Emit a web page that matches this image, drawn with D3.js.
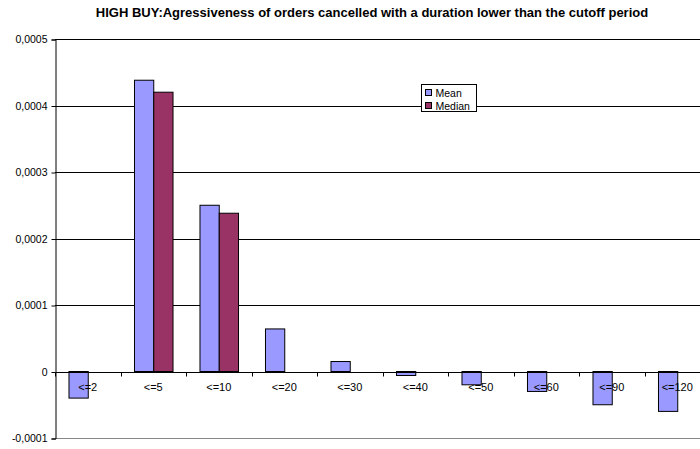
<!DOCTYPE html>
<html>
<head>
<meta charset="utf-8">
<script src="https://cdn.jsdelivr.net/npm/d3@7"></script>
<style>
  body { margin: 0; background: #fff; }
  svg { display: block; font-family: "Liberation Sans", Arial, sans-serif; }
</style>
</head>
<body>
<svg id="chart" width="700" height="449"></svg>
<script>
const categories = ["<=2", "<=5", "<=10", "<=20", "<=30", "<=40", "<=50", "<=60", "<=90", "<=120"];
const meanValues = [-0.00004, 0.000438, 0.00025, 0.000064, 0.000015, -0.000006, -0.00002, -0.00003, -0.00005, -0.00006];
const medianValues = [0, 0.00042, 0.000238, 0, 0, 0, 0, 0, 0, 0];
const seriesNames = ["Mean", "Median"];
const yTicks = [-0.0001, 0, 0.0001, 0.0002, 0.0003, 0.0004, 0.0005];

const colors = {Mean: "#9999ff", Median: "#993366"};

const svg = d3.select('#chart');

// plot area runs past the right edge, like the original export
const plot = {left: 55, right: 710, top: 39, bottom: 438};

const data = categories.map((c, i) => ({cat: c, Mean: meanValues[i], Median: medianValues[i]}));

const xScale = d3.scaleBand()
    .domain(categories)
    .range([plot.left, plot.right])
    .paddingInner(0)
    .paddingOuter(0);

const xInner = d3.scaleBand()
    .domain(seriesNames)
    .range([0, xScale.bandwidth()])
    .paddingInner(0)
    .paddingOuter(0.7);

const yScale = d3.scaleLinear()
    .domain([-0.0001, 0.0005])
    .range([plot.bottom, plot.top]);

// title
svg.append('text')
    .attr('x', 372)
    .attr('y', 17)
    .attr('text-anchor', 'middle')
    .style('font-size', '13px')
    .style('font-weight', 'bold')
    .text("HIGH BUY:Agressiveness of orders cancelled with a duration lower than the cutoff period");

// gridlines
svg.append('g')
    .selectAll('line')
    .data(yTicks.filter(t => t !== 0))
    .join('line')
        .attr('x1', plot.left)
        .attr('x2', plot.right)
        .attr('y1', d => Math.round(yScale(d)) + 0.5)
        .attr('y2', d => Math.round(yScale(d)) + 0.5)
        .attr('stroke', d => d === -0.0001 ? '#888' : '#000')
        .attr('stroke-width', 1);

// y axis
const yAxisGroup = svg.append('g')
    .attr('transform', `translate(${plot.left + 0.5}, 0.5)`)
    .call(d3.axisLeft(yScale)
        .tickValues(yTicks)
        .tickSize(4)
        .tickFormat(d => d === 0 ? "0" : d3.format(".4f")(d).replace('.', ',').replace('−', '-')));
yAxisGroup.select('.domain').attr('stroke', '#000');
yAxisGroup.selectAll('text')
    .style('font-size', '10.5px')
    .style('font-family', '"Liberation Sans", Arial, sans-serif')
    .attr('x', -8);

// bars
const groups = svg.append('g')
    .selectAll('g')
    .data(data)
    .join('g')
        .attr('transform', d => `translate(${xScale(d.cat)}, 0)`);

groups.selectAll('rect')
    .data(d => seriesNames.map(s => ({series: s, value: d[s]})).filter(v => v.value !== 0))
    .join('rect')
        .attr('x', d => xInner(d.series) + 0.5)
        .attr('width', xInner.bandwidth())
        .attr('y', d => yScale(Math.max(0, d.value)))
        .attr('height', d => Math.abs(yScale(d.value) - yScale(0)))
        .attr('fill', d => colors[d.series])
        .attr('stroke', '#000')
        .attr('stroke-width', 1);

// x axis on zero line
const xAxisGroup = svg.append('g')
    .attr('transform', `translate(0.5, ${Math.round(yScale(0)) + 0.5})`);
xAxisGroup.append('line')
    .attr('x1', plot.left)
    .attr('x2', plot.right)
    .attr('stroke', '#000');
xAxisGroup.selectAll('.tick')
    .data(d3.range(categories.length + 1))
    .join('line')
        .attr('x1', i => Math.round(plot.left + i * xScale.step()))
        .attr('x2', i => Math.round(plot.left + i * xScale.step()))
        .attr('y1', 0)
        .attr('y2', 4)
        .attr('stroke', '#000');

svg.append('g')
    .selectAll('text')
    .data(categories)
    .join('text')
        .attr('x', d => xScale(d) + xScale.bandwidth() / 2)
        .attr('y', 391)
        .attr('text-anchor', 'middle')
        .style('font-size', '11px')
        .text(d => d);

// legend
const legend = svg.append('g')
    .attr('transform', 'translate(421.5, 84.5)');
legend.append('rect')
    .attr('width', 55)
    .attr('height', 27)
    .attr('fill', '#fff')
    .attr('stroke', '#000');
const items = legend.selectAll('.item')
    .data(seriesNames)
    .join('g')
        .attr('transform', (d, i) => `translate(4, ${5 + i * 13})`);
items.append('rect')
    .attr('width', 6)
    .attr('height', 6)
    .attr('fill', d => colors[d])
    .attr('stroke', '#000');
items.append('text')
    .attr('x', 10)
    .attr('y', 7)
    .style('font-size', '10.5px')
    .text(d => d);
</script>
</body>
</html>
